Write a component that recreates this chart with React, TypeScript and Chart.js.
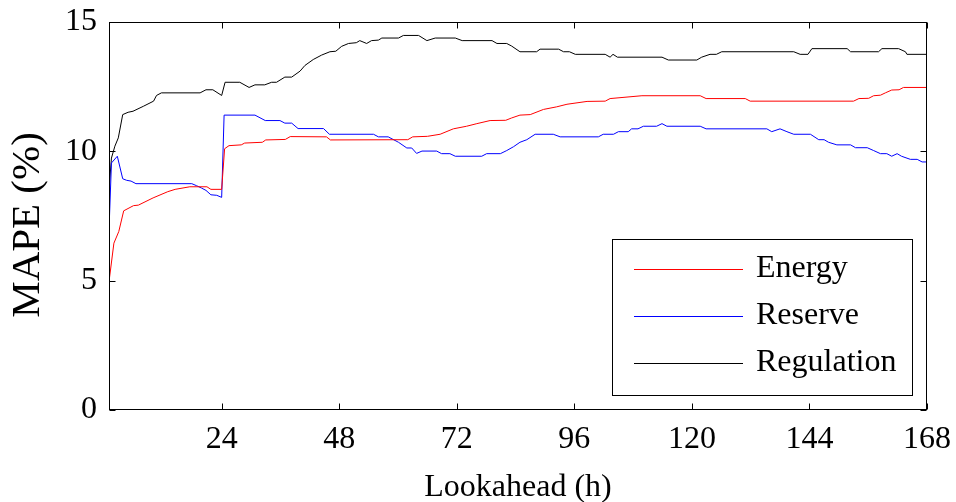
import React, { useEffect, useRef } from "react";
import { Chart, registerables } from "chart.js";

Chart.register(...registerables);

const FONT = "'Liberation Serif', 'Times New Roman', serif";

const xTickValues = [24, 48, 72, 96, 120, 144, 168];
const yTickValues = [0, 5, 10, 15];
const seriesLabels = ["Energy", "Reserve", "Regulation"];
const seriesColors = ["#ff0000", "#0000ff", "#000000"];
const xLabel = "Lookahead (h)";
const yLabel = "MAPE (%)";

const energyHours = [1, 2, 3, 4, 6, 7, 10, 13, 14.5, 17.5, 21, 21.8, 24, 24.6, 25.5, 28, 28.7, 32.3, 33, 37, 38, 45.4, 46.2, 62, 63, 66, 68.6, 71.3, 74, 76.1, 78.8, 82, 83.2, 84.9, 87, 89.7, 92.4, 94.5, 98.6, 102.3, 103.3, 109.8, 121.7, 122.9, 130.9, 131.9, 153, 154.1, 156.1, 157.1, 158.5, 159.5, 160.8, 162.3, 163.2, 168];
const energyValues = [4.96, 6.45, 6.9, 7.7, 7.9, 7.92, 8.2, 8.44, 8.53, 8.63, 8.63, 8.53, 8.53, 10.1, 10.22, 10.25, 10.32, 10.35, 10.44, 10.46, 10.57, 10.56, 10.44, 10.45, 10.56, 10.58, 10.66, 10.87, 10.97, 11.07, 11.19, 11.2, 11.29, 11.4, 11.42, 11.62, 11.72, 11.82, 11.93, 11.94, 12.04, 12.15, 12.15, 12.04, 12.04, 11.94, 11.94, 12.04, 12.05, 12.15, 12.17, 12.26, 12.37, 12.38, 12.47, 12.47];

const reserveHours = [1, 1.5, 2.7, 3.8, 4.6, 5.5, 6.5, 17.9, 18.9, 19.9, 20.8, 21.8, 23, 24, 24.5, 30.8, 32.9, 35.9, 36.9, 38.3, 39.6, 44.8, 46, 55, 56, 58, 60.1, 61.8, 62.8, 63.8, 64.9, 67.9, 68.9, 70.6, 71.7, 77.1, 78.1, 80.9, 82.2, 83.6, 84.9, 86.3, 88, 91.7, 93.1, 100.9, 101.9, 104, 105, 107, 107.7, 109, 110.1, 112.8, 113.9, 114.9, 121.7, 122.9, 135.3, 136.3, 138, 139.4, 140.8, 144.2, 145.9, 147, 147.9, 149.6, 152.4, 153.4, 155.8, 157.1, 158.5, 159.8, 160.8, 161.9, 162.8, 164.6, 166, 167, 168];
const reserveValues = [6.96, 9.55, 9.81, 8.94, 8.88, 8.85, 8.75, 8.75, 8.67, 8.58, 8.49, 8.32, 8.3, 8.22, 11.4, 11.4, 11.19, 11.19, 11.09, 11.09, 10.88, 10.88, 10.66, 10.66, 10.56, 10.56, 10.35, 10.13, 10.13, 9.92, 10.01, 10.01, 9.91, 9.91, 9.81, 9.81, 9.91, 9.91, 10.03, 10.18, 10.35, 10.45, 10.66, 10.66, 10.56, 10.56, 10.66, 10.66, 10.76, 10.76, 10.87, 10.87, 10.97, 10.97, 11.07, 10.97, 10.97, 10.87, 10.87, 10.76, 10.87, 10.76, 10.66, 10.66, 10.45, 10.45, 10.35, 10.25, 10.25, 10.14, 10.14, 10.03, 9.91, 9.91, 9.81, 9.91, 9.81, 9.69, 9.69, 9.59, 9.59];

const regulationHours = [1, 1.5, 2.2, 2.9, 3.8, 4.9, 5.9, 8, 10.1, 10.7, 11.7, 19.6, 20.8, 22.2, 24, 24.7, 27.7, 29.6, 30.8, 32.8, 34.2, 35.2, 36.9, 38.3, 40, 41, 42.7, 44.4, 46.1, 47.3, 48.5, 49.9, 51.5, 52.2, 53.6, 54.6, 56, 56.7, 60.1, 61.1, 64.2, 65.9, 67.6, 71.7, 73.1, 79.2, 80.2, 82.2, 83.2, 84.9, 88.3, 89, 92.8, 93.8, 95, 96.2, 102.3, 103.3, 103.9, 104.8, 113.9, 115.2, 121, 122, 123.7, 125, 126.1, 140.8, 142.1, 143.7, 144.5, 151.7, 152.4, 158.1, 158.8, 162.2, 163.6, 163.9, 168];
const regulationValues = [8.5, 9.74, 10.2, 10.52, 11.42, 11.51, 11.55, 11.74, 11.94, 12.16, 12.26, 12.26, 12.38, 12.38, 12.16, 12.67, 12.67, 12.47, 12.57, 12.57, 12.67, 12.67, 12.87, 12.87, 13.1, 13.32, 13.55, 13.72, 13.85, 13.87, 14.06, 14.17, 14.2, 14.28, 14.17, 14.28, 14.3, 14.38, 14.38, 14.48, 14.48, 14.28, 14.38, 14.38, 14.28, 14.28, 14.17, 14.17, 14.07, 13.85, 13.85, 13.95, 13.95, 13.85, 13.85, 13.75, 13.75, 13.64, 13.75, 13.64, 13.64, 13.53, 13.53, 13.64, 13.75, 13.75, 13.85, 13.85, 13.75, 13.75, 13.97, 13.97, 13.85, 13.85, 13.97, 13.97, 13.85, 13.75, 13.75];

const toPoints = (xs: number[], ys: number[]) => xs.map((x, i) => ({ x, y: ys[i] }));

const zeroPadding = (scale: any) => {
  scale.paddingLeft = 0;
  scale.paddingRight = 0;
  scale.paddingTop = 0;
  scale.paddingBottom = 0;
};

const framePlugin = {
  id: "frameTicksLegendTitle",
  afterDatasetsDraw(chart: any) {
    const { ctx, chartArea, scales } = chart;
    const { left, right, top, bottom } = chartArea;
    const xs = scales.x;
    const ys = scales.y;
    ctx.save();
    ctx.strokeStyle = "#000";
    ctx.lineWidth = 1;
    const L = Math.round(left) + 0.5;
    const R = Math.round(right) - 0.5;
    const T = Math.round(top) + 0.5;
    const B = Math.round(bottom) - 0.5;
    ctx.strokeRect(L, T, R - L, B - T);
    const tl = 6;
    ctx.beginPath();
    xTickValues.forEach((v) => {
      const px = Math.round(xs.getPixelForValue(v)) + 0.5;
      ctx.moveTo(px, B);
      ctx.lineTo(px, B - tl);
      ctx.moveTo(px, T);
      ctx.lineTo(px, T + tl);
    });
    yTickValues.forEach((v) => {
      const py = Math.round(ys.getPixelForValue(v)) + 0.5;
      ctx.moveTo(L, py);
      ctx.lineTo(L + tl, py);
      ctx.moveTo(R, py);
      ctx.lineTo(R - tl, py);
    });
    ctx.stroke();

    // legend box
    const bw = 300;
    const bh = 156;
    const bx = Math.round(right) - 15 - bw;
    const by = Math.round(bottom) - 15 - bh;
    ctx.fillStyle = "#fff";
    ctx.fillRect(bx, by, bw, bh);
    ctx.strokeStyle = "#000";
    ctx.strokeRect(bx + 0.5, by + 0.5, bw, bh);
    ctx.font = `32px ${FONT}`;
    ctx.textBaseline = "middle";
    ctx.textAlign = "left";
    chart.data.datasets.forEach((ds: any, i: number) => {
      const ly = by + 30 + i * 47;
      ctx.strokeStyle = ds.borderColor;
      ctx.lineWidth = 1;
      ctx.beginPath();
      ctx.moveTo(bx + 22, ly + 0.5);
      ctx.lineTo(bx + 131, ly + 0.5);
      ctx.stroke();
      ctx.fillStyle = "#000";
      ctx.fillText(ds.label, bx + 144, ly);
    });

    // y axis title
    ctx.save();
    ctx.translate(28.5, (top + bottom) / 2 + 9);
    ctx.rotate(-Math.PI / 2);
    ctx.font = `41px ${FONT}`;
    ctx.textAlign = "center";
    ctx.textBaseline = "middle";
    ctx.fillStyle = "#000";
    ctx.fillText(yLabel, 0, 0);
    ctx.restore();
    ctx.restore();
  },
};

export default function App() {
  const canvasRef = useRef<HTMLCanvasElement | null>(null);

  useEffect(() => {
    document.body.style.margin = "0";
    const canvas = canvasRef.current;
    if (!canvas) return;
    const seriesHours = [energyHours, reserveHours, regulationHours];
    const seriesValues = [energyValues, reserveValues, regulationValues];
    const chart = new Chart(canvas, {
      type: "line",
      data: {
        datasets: seriesLabels.map((label, i) => ({
          label,
          data: toPoints(seriesHours[i], seriesValues[i]),
          borderColor: seriesColors[i],
          backgroundColor: seriesColors[i],
          borderWidth: 1,
          pointRadius: 0,
          tension: 0,
          fill: false,
        })),
      },
      options: {
        animation: false,
        responsive: false,
        devicePixelRatio: 1,
        layout: { padding: { top: 22, right: 29, left: 0, bottom: 0 } },
        plugins: {
          legend: { display: false },
          tooltip: { enabled: false },
        },
        scales: {
          x: {
            type: "linear",
            min: 1,
            max: 168,
            grid: { display: false, drawTicks: false },
            border: { display: false },
            afterBuildTicks: (scale: any) => {
              scale.ticks = xTickValues.map((v) => ({ value: v }));
            },
            afterFit: (scale: any) => {
              scale.height = 92;
              zeroPadding(scale);
            },
            ticks: {
              color: "#000",
              padding: 10,
              maxRotation: 0,
              autoSkip: false,
              font: { family: FONT, size: 32, lineHeight: 1.2 },
            },
            title: {
              display: true,
              text: xLabel,
              color: "#000",
              padding: { top: 0, bottom: 0 },
              font: { family: FONT, size: 32, lineHeight: 0.9 },
            },
          },
          y: {
            type: "linear",
            min: 0,
            max: 15,
            grid: { display: false, drawTicks: false },
            border: { display: false },
            afterBuildTicks: (scale: any) => {
              scale.ticks = yTickValues.map((v) => ({ value: v }));
            },
            afterFit: (scale: any) => {
              scale.width = 109;
              zeroPadding(scale);
            },
            ticks: {
              color: "#000",
              padding: 12,
              autoSkip: false,
              font: { family: FONT, size: 32, lineHeight: 1.2 },
            },
          },
        },
      },
      plugins: [framePlugin],
    });
    return () => chart.destroy();
  }, []);

  return (
    <div style={{ position: "fixed", left: 0, top: 0, width: 956, height: 502, background: "#fff" }}>
      <canvas ref={canvasRef} width={956} height={502} style={{ display: "block" }} />
    </div>
  );
}
